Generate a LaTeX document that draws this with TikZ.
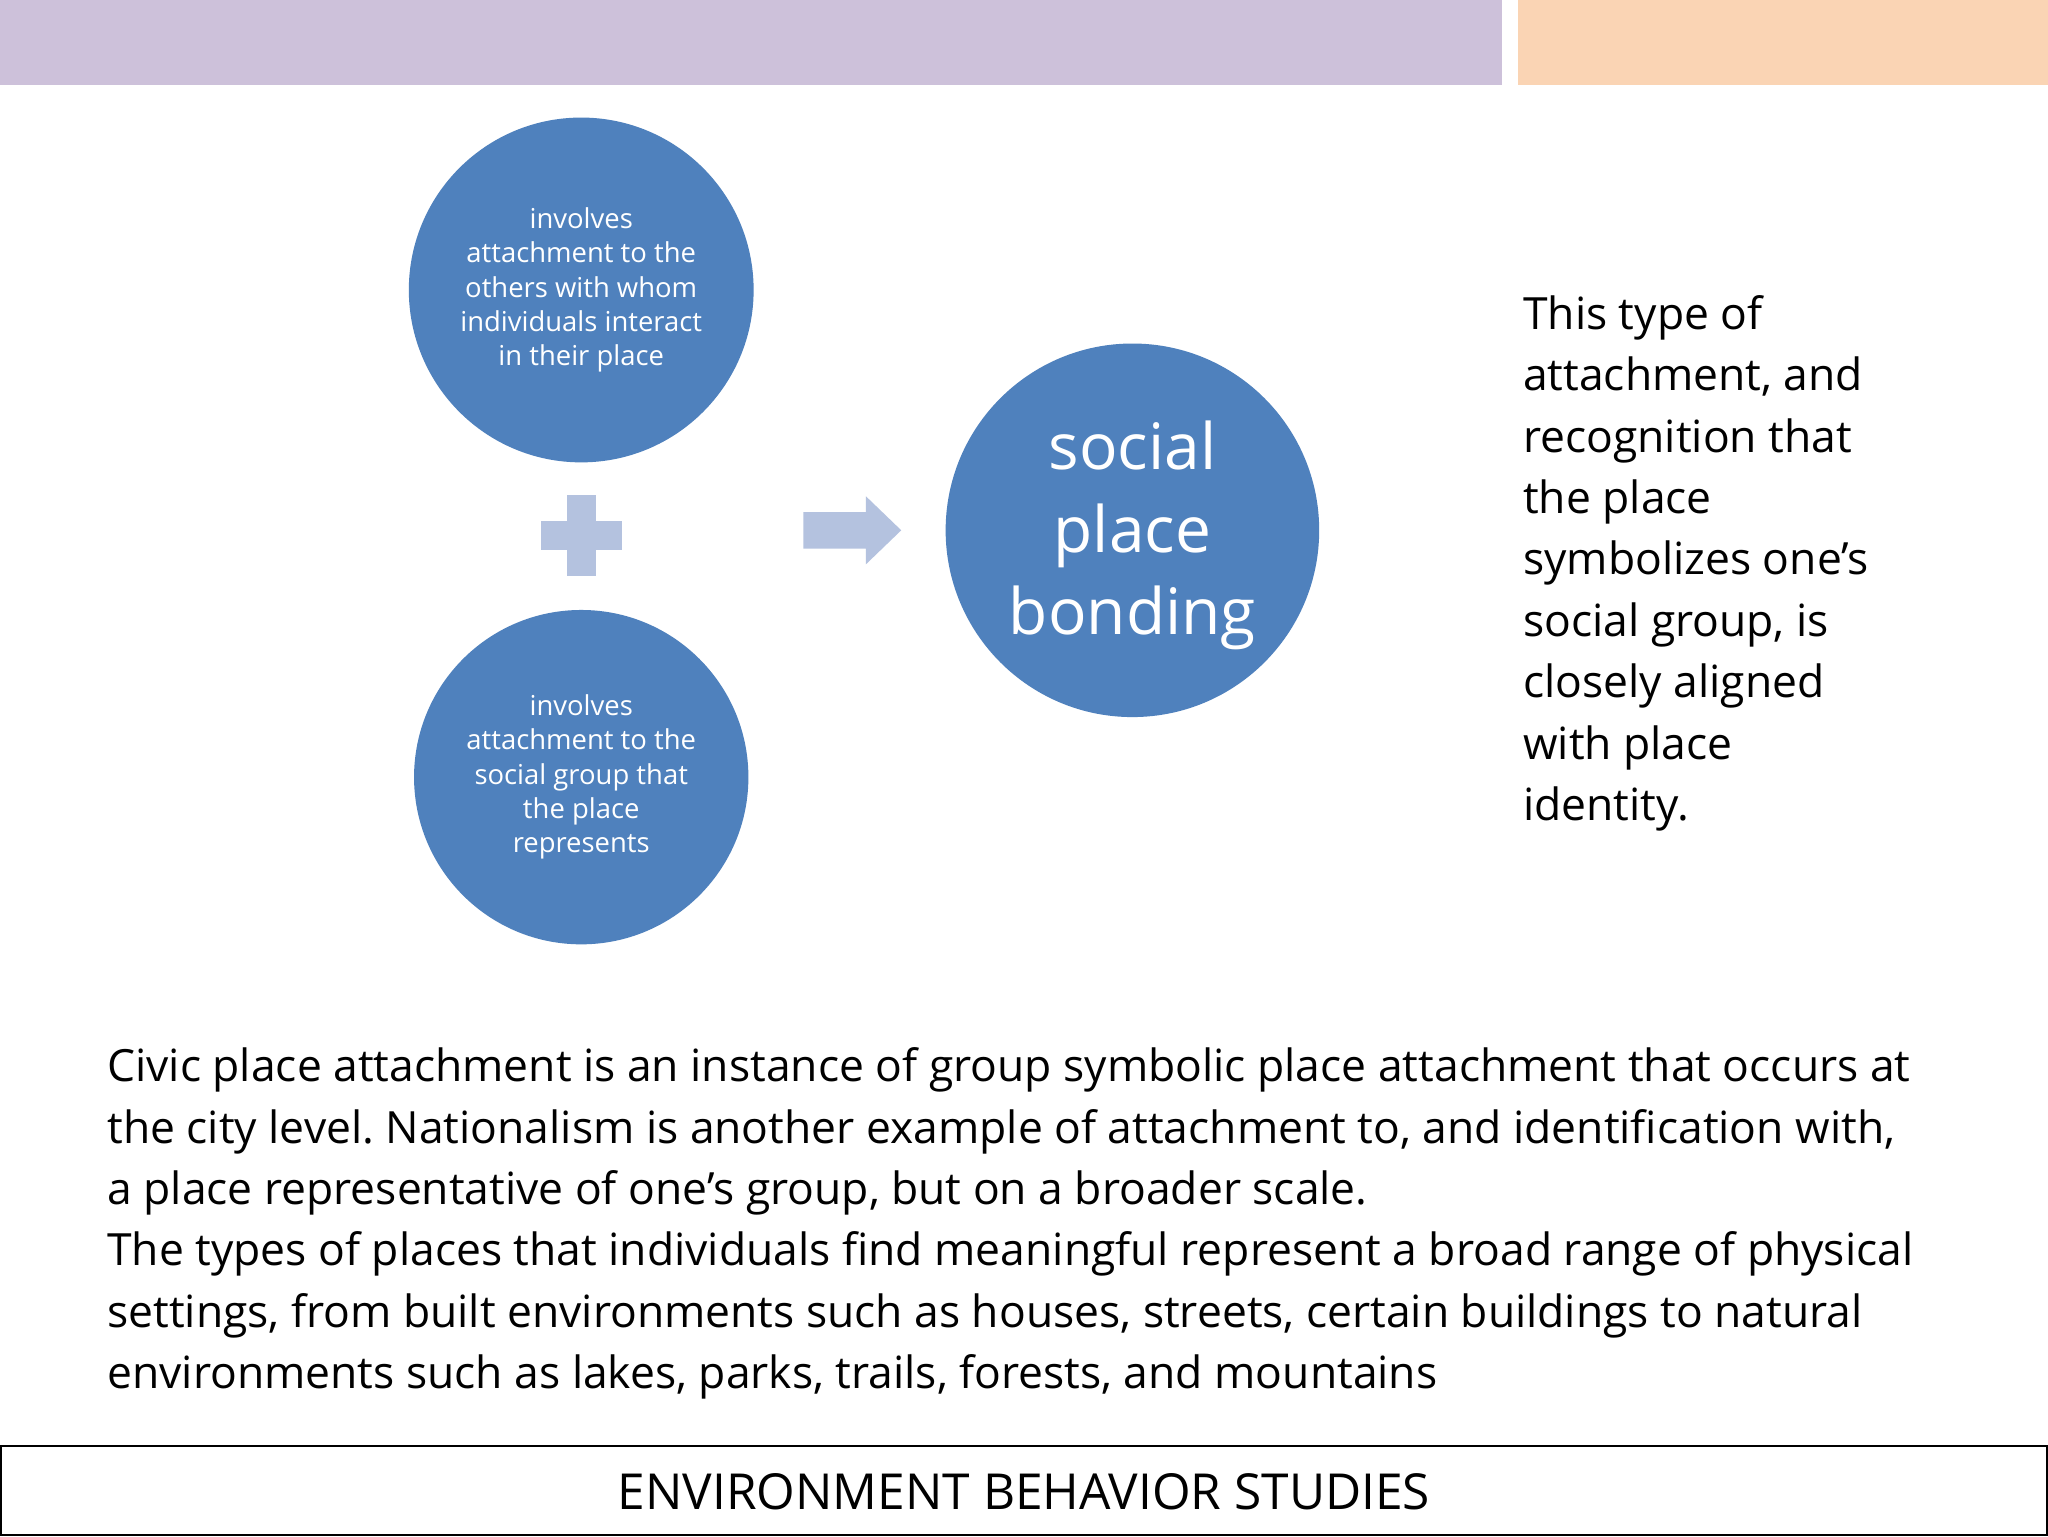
\documentclass[tikz,border=0pt]{standalone}
\usepackage{fontspec}
\setmainfont{Open Sans}
\frenchspacing
\definecolor{barp}{HTML}{CDC1DA}
\definecolor{baro}{HTML}{FAD4B4}
\definecolor{circ}{HTML}{4F81BD}
\definecolor{light}{HTML}{B4C2DF}
\begin{document}
\begin{tikzpicture}[x=1pt,y=-1pt,
  bub/.style={circle,fill=circ,text=white,align=center,inner sep=0pt},
  small/.style={font=\fontsize{21}{26.3}\selectfont},
  body/.style={font=\fontsize{34}{47}\selectfont,align=left,anchor=north west,inner sep=0pt}]
\useasboundingbox (0,0) rectangle (1568,1176);
\fill[white] (0,0) rectangle (1568,1176);
\fill[barp] (0,0) rectangle (1150,65);
\fill[baro] (1162,0) rectangle (1568,65);
\node[bub,minimum size=264pt,small] (c1) at (445,222) {involves\\attachment to the\\others with whom\\individuals interact\\in their place};
\node[bub,minimum size=256pt,small] (c2) at (445,595) {involves\\attachment to the\\social group that\\the place\\represents};
\node[bub,minimum size=286pt] (c3) at (867,406) {};
\node[text=white,align=center,font=\fontsize{49}{63}\selectfont] (t3) at (867,410) {social\\place\\bonding};
\node[fill=light,minimum width=62pt,minimum height=22pt,inner sep=0pt] (p1) at (445,410) {};
\node[fill=light,minimum width=22pt,minimum height=62pt,inner sep=0pt] (p2) at (445,410) {};
\fill[light] (615,392) -- (663,392) -- (663,380) -- (690,406) -- (663,432) -- (663,420) -- (615,420) -- cycle;
\node[body] (rt) at (1166,226) {This type of\\attachment, and\\recognition that\\the place\\symbolizes one’s\\social group, is\\closely aligned\\with place\\identity.};
\node[body] (bt) at (82,802) {Civic place attachment is an instance of group symbolic place attachment that occurs at\\the city level. Nationalism is another example of attachment to, and identification with,\\a place representative of one’s group, but on a broader scale.\\The types of places that individuals find meaningful represent a broad range of physical\\settings, from built environments such as houses, streets, certain buildings to natural\\environments such as lakes, parks, trails, forests, and mountains};
\draw[line width=1.5pt] (0.75,1107) rectangle (1567.25,1175.25);
\node[font=\fontsize{38}{40}\selectfont] (ft) at (784,1142) {ENVIRONMENT BEHAVIOR STUDIES};
\end{tikzpicture}
\end{document}
